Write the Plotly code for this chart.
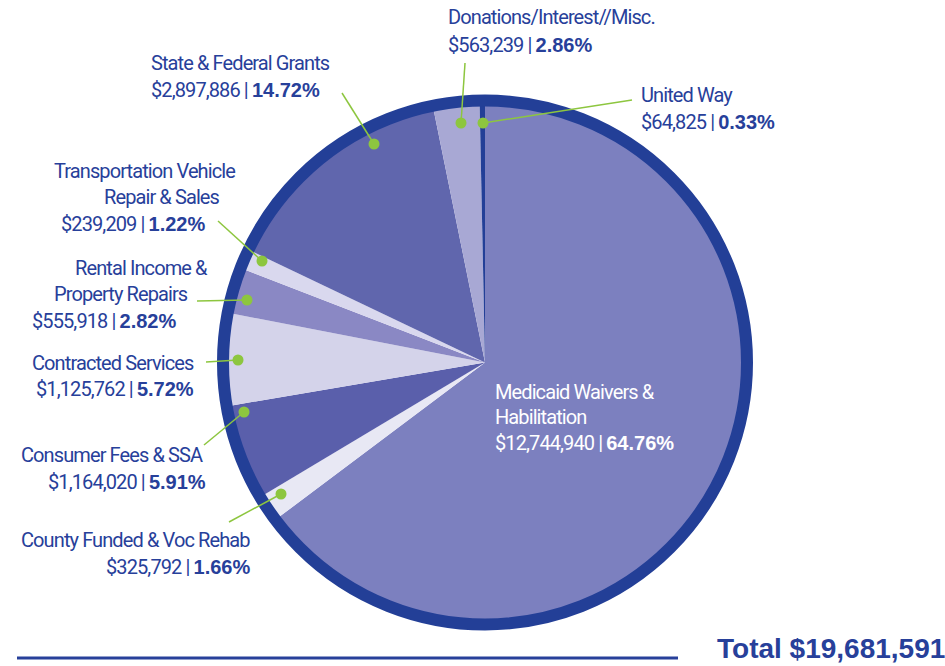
import plotly.graph_objects as go

# ---- data ----
categories = [
    "Medicaid Waivers & Habilitation",
    "County Funded & Voc Rehab",
    "Consumer Fees & SSA",
    "Contracted Services",
    "Rental Income & Property Repairs",
    "Transportation Vehicle Repair & Sales",
    "State & Federal Grants",
    "Donations/Interest//Misc.",
    "United Way",
]
values = [12744940, 325792, 1164020, 1125762, 555918, 239209, 2897886, 563239, 64825]
total_label = "Total $19,681,591"

colors = ["#7c80bf", "#e8e8f4", "#5a5fab", "#d4d3ea", "#8a88c4",
          "#d9d8ee", "#6066ad", "#a8a8d4", "#233f97"]

# ---- layout config (pixel coordinates) ----
W, H = 945, 666
CX, CY = 485, 362.5
R_PIE = 258
R_RING = 262
NAVY = "#27409a"
GREEN = "#8dc63f"
NARROW = "Liberation Sans Narrow, Arial Narrow, Roboto, sans-serif"
BOLD = "Liberation Sans, Arial, sans-serif"
FS = 20
SQUEEZE = "letter-spacing:-0.9px"

total = sum(values)
pcts = [f"{v / total * 100:.2f}%" for v in values]

label_layout = {
    "United Way": dict(lines=[("United Way", 639, 95)], val=(639, 122), anchor="left",
                       line=(632, 100), dot=(483, 123)),
    "Donations/Interest//Misc.": dict(lines=[("Donations/Interest//Misc.", 446, 17)], val=(446, 45),
                                      anchor="left", line=(465, 63), dot=(461, 123)),
    "State & Federal Grants": dict(lines=[("State & Federal Grants", 149, 63)], val=(149, 90),
                                   anchor="left", line=(342, 93), dot=(374, 144)),
    "Transportation Vehicle Repair & Sales": dict(
        lines=[("Transportation Vehicle", 237, 171), ("Repair & Sales", 222, 197)], val=(207, 224),
        anchor="right", line=(218, 221), dot=(262, 261)),
    "Rental Income & Property Repairs": dict(
        lines=[("Rental Income &", 210, 268), ("Property Repairs", 190, 294)], val=(178, 321),
        anchor="right", line=(197, 301), dot=(247, 300)),
    "Contracted Services": dict(lines=[("Contracted Services", 196, 363)], val=(196, 389),
                                anchor="right", line=(206, 362), dot=(238, 360)),
    "Consumer Fees & SSA": dict(lines=[("Consumer Fees & SSA", 205, 455)], val=(208, 482),
                                anchor="right", line=(204, 445), dot=(244, 412)),
    "County Funded & Voc Rehab": dict(lines=[("County Funded & Voc Rehab", 252, 540)], val=(252, 567),
                                      anchor="right", line=(229, 522), dot=(281, 494)),
}

fig = go.Figure()
fig.add_trace(go.Pie(
    labels=categories, values=values, sort=False, direction="clockwise", rotation=0,
    marker=dict(colors=colors, line=dict(width=0)),
    textinfo="none", hoverinfo="label+value+percent", showlegend=False,
    domain=dict(x=[(CX - R_PIE) / W, (CX + R_PIE) / W],
                y=[(H - CY - R_PIE) / H, (H - CY + R_PIE) / H]),
))
fig.add_trace(go.Scatter(x=[0, W], y=[0, H], mode="markers", marker=dict(opacity=0),
                         hoverinfo="skip", showlegend=False))

shapes = [dict(type="circle", xref="x", yref="y", x0=CX - R_RING, x1=CX + R_RING,
               y0=CY - R_RING, y1=CY + R_RING, line=dict(color="#233f97", width=12))]
annotations = []


def sq(t):
    return f"<span style=\"{SQUEEZE}\">{t}</span>"


def val_text(i):
    return (f"<span style=\"{SQUEEZE}\">${values[i]:,} | </span>"
            f"<span style=\"font-family:{BOLD};font-size:20px\"><b>{pcts[i]}</b></span>")


for i, cat in enumerate(categories):
    if cat not in label_layout:
        continue
    cfg = label_layout[cat]
    lx, ly = cfg["line"]
    dx, dy = cfg["dot"]
    shapes.append(dict(type="line", xref="x", yref="y", x0=lx, y0=ly, x1=dx, y1=dy,
                       line=dict(color=GREEN, width=1.5)))
    shapes.append(dict(type="circle", xref="x", yref="y", x0=dx - 5.5, x1=dx + 5.5,
                       y0=dy - 5.5, y1=dy + 5.5, fillcolor=GREEN, line=dict(width=0)))
    for txt, tx, ty in cfg["lines"]:
        annotations.append(dict(x=tx, y=ty, xref="x", yref="y", text=sq(txt), showarrow=False,
                                xanchor=cfg["anchor"], yanchor="middle",
                                font=dict(family=NARROW, size=FS, color=NAVY)))
    vx, vy = cfg["val"]
    annotations.append(dict(x=vx, y=vy, xref="x", yref="y", text=val_text(i), showarrow=False,
                            xanchor=cfg["anchor"], yanchor="middle",
                            font=dict(family=NARROW, size=FS, color=NAVY)))

for txt, ty in [("Medicaid Waivers &", 392), ("Habilitation", 417)]:
    annotations.append(dict(x=493, y=ty, xref="x", yref="y", text=sq(txt), showarrow=False,
                            xanchor="left", yanchor="middle",
                            font=dict(family=NARROW, size=FS, color="white")))
annotations.append(dict(x=493, y=443, xref="x", yref="y", text=val_text(0), showarrow=False,
                        xanchor="left", yanchor="middle",
                        font=dict(family=NARROW, size=FS, color="white")))

annotations.append(dict(x=1.0, y=1 - 648 / H, xref="paper", yref="paper",
                        text=f"<b>{total_label}</b>",
                        showarrow=False, xanchor="right", yanchor="middle", xshift=2,
                        font=dict(family=BOLD, size=28, color=NAVY)))
shapes.append(dict(type="line", xref="x", yref="y", x0=17, x1=678, y0=658, y1=658,
                   line=dict(color=NAVY, width=3)))

fig.update_layout(
    width=W, height=H, margin=dict(l=0, r=0, t=0, b=0),
    paper_bgcolor="white", plot_bgcolor="rgba(0,0,0,0)",
    xaxis=dict(range=[0, W], visible=False, fixedrange=True),
    yaxis=dict(range=[H, 0], visible=False, fixedrange=True),
    shapes=shapes, annotations=annotations,
)
fig.write_html("out.html", config={"displayModeBar": False},
               post_script="document.body.style.margin='0px';")
